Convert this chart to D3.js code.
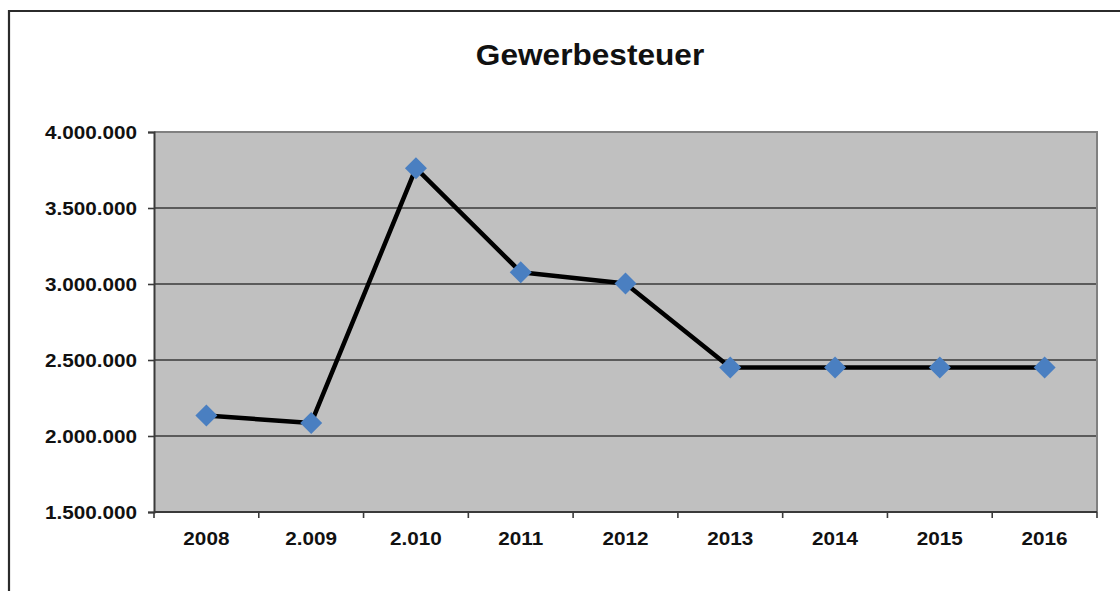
<!DOCTYPE html>
<html>
<head>
<meta charset="utf-8">
<script src="https://cdn.jsdelivr.net/npm/d3@7"></script>
<style>
  html, body { margin: 0; padding: 0; background: #fff; }
  svg { display: block; }
  text { font-family: "Liberation Sans", Arial, sans-serif; font-weight: bold; fill: #111; }
</style>
</head>
<body>
<script>
const title = "Gewerbesteuer";
const categories = ["2008", "2.009", "2.010", "2011", "2012", "2013", "2014", "2015", "2016"];
const values = [2135000, 2085000, 3762000, 3078000, 3003000, 2450000, 2450000, 2450000, 2450000];
const yTicks = [1500000, 2000000, 2500000, 3000000, 3500000, 4000000];
const yDomain = [1500000, 4000000];

const W = 1120, H = 591;
const plot = { left: 154, top: 132, right: 1097, bottom: 512 };
const sx = 1.09; // horizontal text stretch seen in reference

const svg = d3.select("body").append("svg").attr("width", W).attr("height", H);

// outer frame (clipped on right/bottom)
svg.append("path")
  .attr("d", `M9,${H + 5} L9,11 L${W + 5},11`)
  .attr("fill", "none").attr("stroke", "#2b2b2b").attr("stroke-width", 2.2);

const x = d3.scaleBand().domain(categories).range([plot.left, plot.right]).padding(0);
const y = d3.scaleLinear().domain(yDomain).range([plot.bottom, plot.top]);

const de = d3.formatLocale({ decimal: ",", thousands: ".", grouping: [3], currency: ["", " €"] });
const fmt = de.format(",d");

// plot background
svg.append("rect")
  .attr("x", plot.left).attr("y", plot.top)
  .attr("width", plot.right - plot.left).attr("height", plot.bottom - plot.top)
  .attr("fill", "#c0c0c0");

// gridlines
svg.append("g").selectAll("line")
  .data(yTicks.filter(t => t > yDomain[0] && t < yDomain[1]))
  .join("line")
  .attr("x1", plot.left).attr("x2", plot.right)
  .attr("y1", d => y(d)).attr("y2", d => y(d))
  .attr("stroke", "#3a3a3a").attr("stroke-width", 1.6);

// top & right plot border
svg.append("path")
  .attr("d", `M${plot.left},${plot.top} L${plot.right},${plot.top} L${plot.right},${plot.bottom}`)
  .attr("fill", "none").attr("stroke", "#808080").attr("stroke-width", 2);

// y axis
const yAxis = svg.append("g")
  .attr("transform", `translate(${plot.left},0)`)
  .call(d3.axisLeft(y).tickValues(yTicks).tickFormat(fmt).tickSize(6).tickPadding(12));
yAxis.select(".domain").attr("stroke", "#3a3a3a").attr("stroke-width", 2);
yAxis.selectAll(".tick line").attr("stroke", "#3a3a3a").attr("stroke-width", 1.6);
yAxis.selectAll(".tick text")
  .attr("font-size", 19).attr("fill", "#111")
  .attr("font-family", "Liberation Sans, Arial, sans-serif")
  .attr("font-weight", "bold")
  .attr("dy", "0.36em")
  .attr("transform", `scale(${sx},1)`)
  .attr("x", -17 / sx);

// x axis with ticks at band boundaries
const xg = svg.append("g").attr("transform", `translate(0,${plot.bottom})`);
xg.append("line").attr("x1", plot.left).attr("x2", plot.right)
  .attr("stroke", "#3a3a3a").attr("stroke-width", 2);
const boundaries = categories.map(c => x(c)).concat([x.range()[1]]);
xg.selectAll("line.tk").data(boundaries).join("line").attr("class", "tk")
  .attr("x1", d => d).attr("x2", d => d).attr("y1", 0).attr("y2", 6)
  .attr("stroke", "#3a3a3a").attr("stroke-width", 1.6);
xg.selectAll("text").data(categories).join("text")
  .attr("transform", d => `translate(${x(d) + x.bandwidth() / 2},33) scale(${sx},1)`)
  .attr("text-anchor", "middle")
  .attr("font-size", 19)
  .text(d => d);

// line
const line = d3.line()
  .x((d, i) => x(categories[i]) + x.bandwidth() / 2)
  .y(d => y(d));
svg.append("path").datum(values)
  .attr("d", line)
  .attr("fill", "none").attr("stroke", "#000").attr("stroke-width", 4.5)
  .attr("stroke-linejoin", "round");

// diamond markers
svg.append("g").selectAll("path").data(values).join("path")
  .attr("transform", (d, i) => `translate(${x(categories[i]) + x.bandwidth() / 2},${y(d)})`)
  .attr("d", "M0,-11 L11,0 L0,11 L-11,0 Z")
  .attr("fill", "#4a7fc1");

// title
svg.append("text")
  .attr("transform", `translate(590,65) scale(${sx},1)`)
  .attr("text-anchor", "middle")
  .attr("font-size", 29)
  .text(title);
</script>
</body>
</html>
